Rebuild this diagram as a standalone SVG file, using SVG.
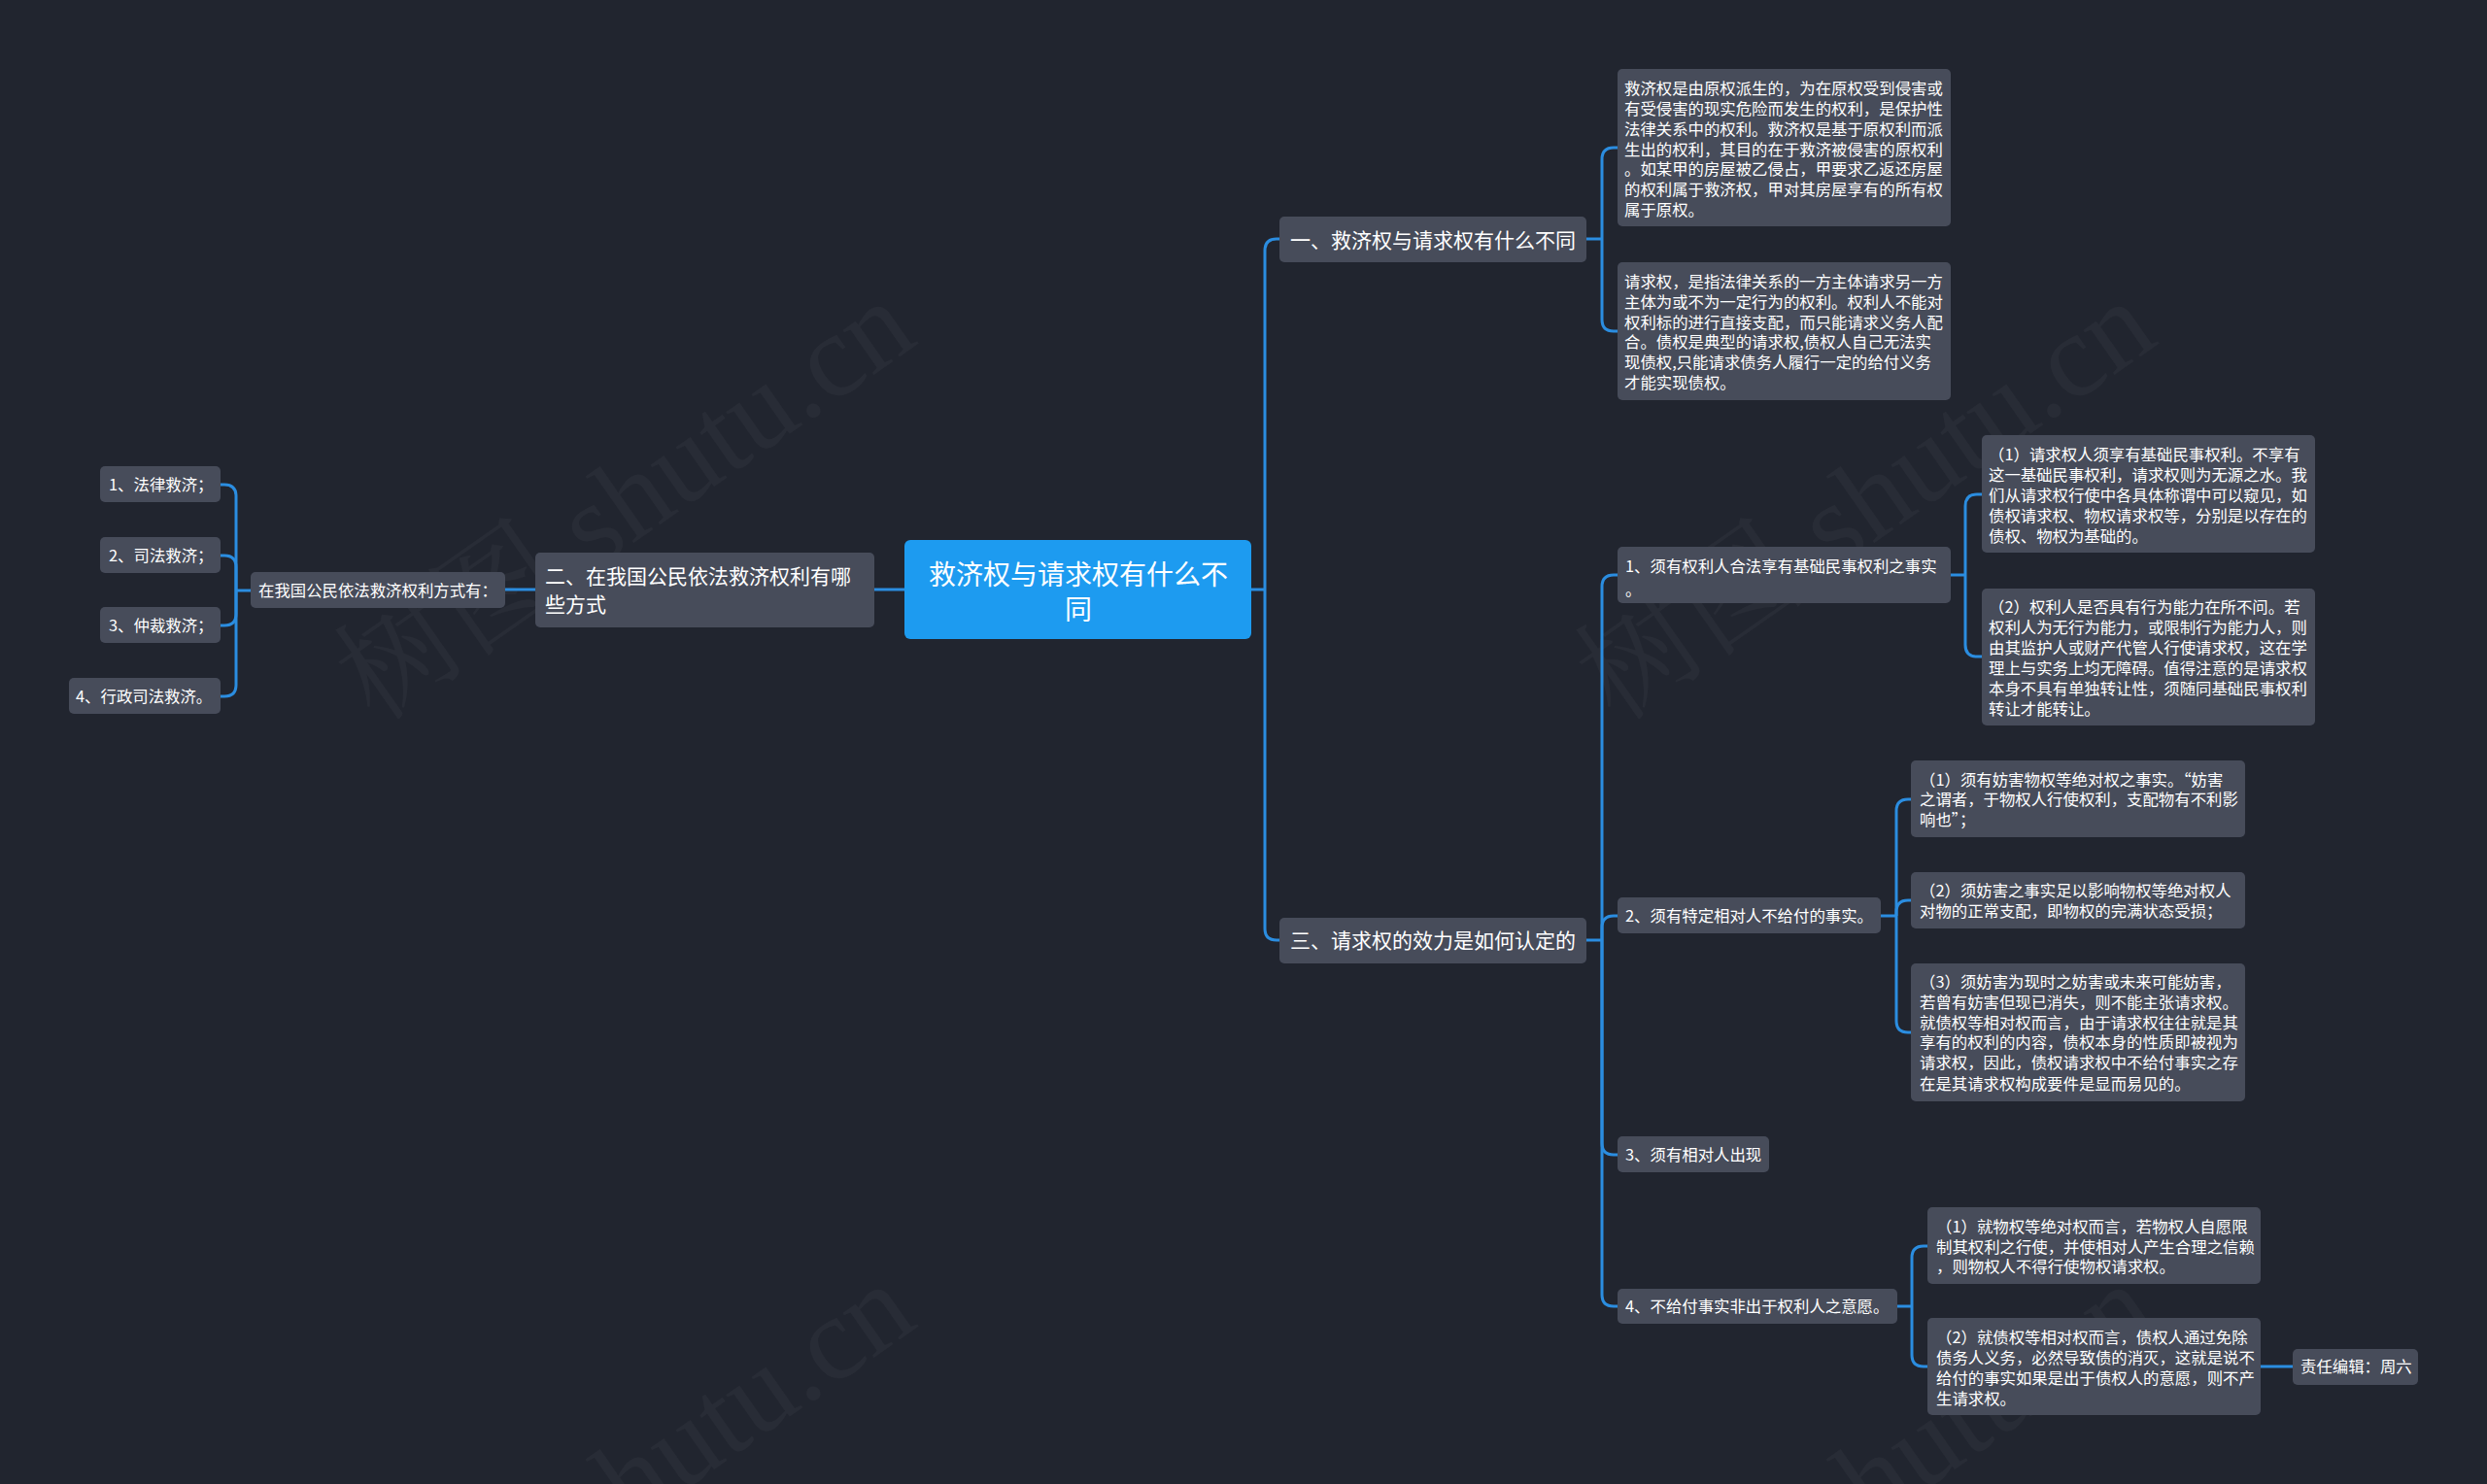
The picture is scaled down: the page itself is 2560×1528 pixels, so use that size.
<svg xmlns="http://www.w3.org/2000/svg" width="2560" height="1528" viewBox="0 0 2560 1528">
<style>
.bg{fill:#21252f}
.n{fill:#474c5a}
.root{fill:#1d9bf0}
.t{font-family:"Noto Sans CJK SC","Noto Sans",sans-serif;font-size:16.4px;fill:#ffffff}
.h{font-family:"Noto Sans CJK SC","Noto Sans",sans-serif;font-size:21px;fill:#ffffff}
.rt{font-family:"Noto Sans CJK SC","Noto Sans",sans-serif;font-size:28px;fill:#ffffff;text-anchor:middle}
.c{fill:none;stroke:#2b8de0;stroke-width:3}
.wm{font-family:"Liberation Serif","Noto Serif CJK SC","Noto Sans CJK SC",serif;font-size:122px;fill:#ffffff;fill-opacity:0.035;text-anchor:middle}
</style>
<rect class="bg" x="0" y="0" width="2560" height="1528"/>
<g id="watermarks">
<text class="wm" transform="translate(644,516) rotate(-35)" y="40">树图 shutu.cn</text>
<text class="wm" transform="translate(1921,516) rotate(-35)" y="40">树图 shutu.cn</text>
<text class="wm" transform="translate(644,1528) rotate(-35)" y="40">树图 shutu.cn</text>
<text class="wm" transform="translate(1921,1528) rotate(-35)" y="40">树图 shutu.cn</text>
</g>
<g id="connectors">
<path class="c" d="M931 607 H900"/>
<path class="c" d="M551 607 H520"/>
<path class="c" d="M258 608 H243"/>
<path class="c" d="M243 608 V511 Q243 499 231 499 H227"/>
<path class="c" d="M243 608 V584 Q243 572 231 572 H227"/>
<path class="c" d="M243 608 V632 Q243 644 231 644 H227"/>
<path class="c" d="M243 608 V705 Q243 717 231 717 H227"/>
<path class="c" d="M1288 607 H1302"/>
<path class="c" d="M1302 607 V258 Q1302 246 1314 246 H1317"/>
<path class="c" d="M1302 607 V956 Q1302 968 1314 968 H1317"/>
<path class="c" d="M1633 246 H1649"/>
<path class="c" d="M1649 246 V164 Q1649 152 1661 152 H1665"/>
<path class="c" d="M1649 246 V329 Q1649 341 1661 341 H1665"/>
<path class="c" d="M1633 968 H1649"/>
<path class="c" d="M1649 968 V604 Q1649 592 1661 592 H1665"/>
<path class="c" d="M1649 968 V955 Q1649 943 1661 943 H1665"/>
<path class="c" d="M1649 968 V1177 Q1649 1189 1661 1189 H1665"/>
<path class="c" d="M1649 968 V1333 Q1649 1345 1661 1345 H1665"/>
<path class="c" d="M2008 592 H2023"/>
<path class="c" d="M2023 592 V521 Q2023 509 2035 509 H2040"/>
<path class="c" d="M2023 592 V664 Q2023 676 2035 676 H2040"/>
<path class="c" d="M1936 943 H1952"/>
<path class="c" d="M1952 943 V835 Q1952 823 1964 823 H1967"/>
<path class="c" d="M1952 943 V939 Q1952 927 1964 927 H1967"/>
<path class="c" d="M1952 943 V1051 Q1952 1063 1964 1063 H1967"/>
<path class="c" d="M1953 1345 H1968"/>
<path class="c" d="M1968 1345 V1295 Q1968 1283 1980 1283 H1984"/>
<path class="c" d="M1968 1345 V1395 Q1968 1407 1980 1407 H1984"/>
<path class="c" d="M2327 1407 H2360"/>
</g>
<g id="root">
<rect class="root" x="931" y="556" width="357" height="102" rx="6"/>
<text class="rt"><tspan x="1110" y="602">救济权与请求权有什么不</tspan><tspan x="1110" y="638">同</tspan></text>
</g>
<g id="n-er">
<rect class="n" x="551" y="569" width="349" height="77" rx="5"/>
<text class="h"><tspan x="561" y="601">二、在我国公民依法救济权利有哪</tspan><tspan x="561" y="630">些方式</tspan></text>
</g>
<g id="n-fangshi">
<rect class="n" x="258" y="589" width="262" height="37" rx="5"/>
<text class="t" x="266" y="614">在我国公民依法救济权利方式有：</text>
</g>
<g id="n-l1">
<rect class="n" x="103" y="480" width="124" height="37" rx="5"/>
<text class="t" x="112" y="505">1、法律救济；</text>
</g>
<g id="n-l2">
<rect class="n" x="103" y="553" width="124" height="37" rx="5"/>
<text class="t" x="112" y="578">2、司法救济；</text>
</g>
<g id="n-l3">
<rect class="n" x="103" y="625" width="124" height="37" rx="5"/>
<text class="t" x="112" y="650">3、仲裁救济；</text>
</g>
<g id="n-l4">
<rect class="n" x="71" y="698" width="156" height="37" rx="5"/>
<text class="t" x="78" y="723">4、行政司法救济。</text>
</g>
<g id="n-yi">
<rect class="n" x="1317" y="223" width="316" height="47" rx="5"/>
<text class="h" x="1328" y="254.5">一、救济权与请求权有什么不同</text>
</g>
<g id="n-san">
<rect class="n" x="1317" y="945" width="316" height="47" rx="5"/>
<text class="h" x="1328" y="976">三、请求权的效力是如何认定的</text>
</g>
<g id="n-a">
<rect class="n" x="1665" y="71" width="343" height="162" rx="5"/>
<text class="t"><tspan x="1672" y="97">救济权是由原权派生的，为在原权受到侵害或</tspan><tspan x="1672" y="118">有受侵害的现实危险而发生的权利，是保护性</tspan><tspan x="1672" y="139">法律关系中的权利。救济权是基于原权利而派</tspan><tspan x="1672" y="160">生出的权利，其目的在于救济被侵害的原权利</tspan><tspan x="1672" y="180">。如某甲的房屋被乙侵占，甲要求乙返还房屋</tspan><tspan x="1672" y="201">的权利属于救济权，甲对其房屋享有的所有权</tspan><tspan x="1672" y="222">属于原权。</tspan></text>
</g>
<g id="n-b">
<rect class="n" x="1665" y="270" width="343" height="142" rx="5"/>
<text class="t"><tspan x="1672" y="296">请求权，是指法律关系的一方主体请求另一方</tspan><tspan x="1672" y="317">主体为或不为一定行为的权利。权利人不能对</tspan><tspan x="1672" y="338">权利标的进行直接支配，而只能请求义务人配</tspan><tspan x="1672" y="358">合。债权是典型的请求权,债权人自己无法实</tspan><tspan x="1672" y="379">现债权,只能请求债务人履行一定的给付义务</tspan><tspan x="1672" y="400">才能实现债权。</tspan></text>
</g>
<g id="n-1">
<rect class="n" x="1665" y="563" width="343" height="58" rx="5"/>
<text class="t"><tspan x="1673" y="589">1、须有权利人合法享有基础民事权利之事实</tspan><tspan x="1673" y="613">。</tspan></text>
</g>
<g id="n-1-1">
<rect class="n" x="2040" y="448" width="343" height="121" rx="5"/>
<text class="t"><tspan x="2047" y="474">（1）请求权人须享有基础民事权利。不享有</tspan><tspan x="2047" y="495">这一基础民事权利，请求权则为无源之水。我</tspan><tspan x="2047" y="516">们从请求权行使中各具体称谓中可以窥见，如</tspan><tspan x="2047" y="537">债权请求权、物权请求权等，分别是以存在的</tspan><tspan x="2047" y="558">债权、物权为基础的。</tspan></text>
</g>
<g id="n-1-2">
<rect class="n" x="2040" y="606" width="343" height="141" rx="5"/>
<text class="t"><tspan x="2047" y="631">（2）权利人是否具有行为能力在所不问。若</tspan><tspan x="2047" y="652">权利人为无行为能力，或限制行为能力人，则</tspan><tspan x="2047" y="673">由其监护人或财产代管人行使请求权，这在学</tspan><tspan x="2047" y="694">理上与实务上均无障碍。值得注意的是请求权</tspan><tspan x="2047" y="715">本身不具有单独转让性，须随同基础民事权利</tspan><tspan x="2047" y="736">转让才能转让。</tspan></text>
</g>
<g id="n-2">
<rect class="n" x="1665" y="924" width="271" height="37" rx="5"/>
<text class="t" x="1673" y="949">2、须有特定相对人不给付的事实。</text>
</g>
<g id="n-2-1">
<rect class="n" x="1967" y="783" width="344" height="79" rx="5"/>
<text class="t"><tspan x="1976" y="809">（1）须有妨害物权等绝对权之事实。“妨害</tspan><tspan x="1976" y="829">之谓者，于物权人行使权利，支配物有不利影</tspan><tspan x="1976" y="850">响也”；</tspan></text>
</g>
<g id="n-2-2">
<rect class="n" x="1967" y="898" width="344" height="58" rx="5"/>
<text class="t"><tspan x="1976" y="923">（2）须妨害之事实足以影响物权等绝对权人</tspan><tspan x="1976" y="944">对物的正常支配，即物权的完满状态受损；</tspan></text>
</g>
<g id="n-2-3">
<rect class="n" x="1967" y="992" width="344" height="142" rx="5"/>
<text class="t"><tspan x="1976" y="1017">（3）须妨害为现时之妨害或未来可能妨害，</tspan><tspan x="1976" y="1038">若曾有妨害但现已消失，则不能主张请求权。</tspan><tspan x="1976" y="1059">就债权等相对权而言，由于请求权往往就是其</tspan><tspan x="1976" y="1079">享有的权利的内容，债权本身的性质即被视为</tspan><tspan x="1976" y="1100">请求权，因此，债权请求权中不给付事实之存</tspan><tspan x="1976" y="1122">在是其请求权构成要件是显而易见的。</tspan></text>
</g>
<g id="n-3">
<rect class="n" x="1665" y="1170" width="156" height="37" rx="5"/>
<text class="t" x="1673" y="1195">3、须有相对人出现</text>
</g>
<g id="n-4">
<rect class="n" x="1665" y="1327" width="288" height="36" rx="5"/>
<text class="t" x="1673" y="1351">4、不给付事实非出于权利人之意愿。</text>
</g>
<g id="n-4-1">
<rect class="n" x="1984" y="1243" width="343" height="79" rx="5"/>
<text class="t"><tspan x="1993" y="1269">（1）就物权等绝对权而言，若物权人自愿限</tspan><tspan x="1993" y="1290">制其权利之行使，并使相对人产生合理之信赖</tspan><tspan x="1993" y="1310">，则物权人不得行使物权请求权。</tspan></text>
</g>
<g id="n-4-2">
<rect class="n" x="1984" y="1357" width="343" height="100" rx="5"/>
<text class="t"><tspan x="1993" y="1383">（2）就债权等相对权而言，债权人通过免除</tspan><tspan x="1993" y="1404">债务人义务，必然导致债的消灭，这就是说不</tspan><tspan x="1993" y="1425">给付的事实如果是出于债权人的意愿，则不产</tspan><tspan x="1993" y="1446">生请求权。</tspan></text>
</g>
<g id="n-editor">
<rect class="n" x="2360" y="1389" width="129" height="37" rx="5"/>
<text class="t" x="2368" y="1413">责任编辑：周六</text>
</g>
</svg>
